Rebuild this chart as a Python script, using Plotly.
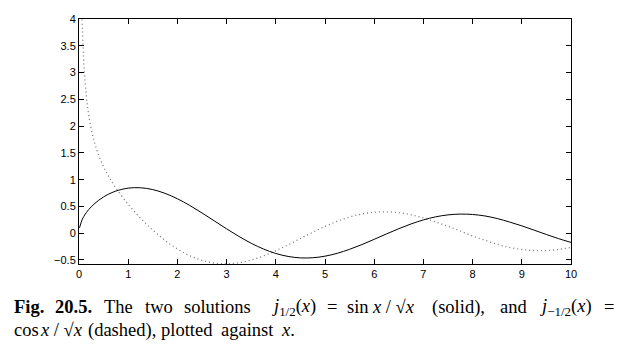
import plotly.graph_objects as go

x_vals = [0.01, 0.0625, 0.1, 0.15, 0.2, 0.3, 0.4, 0.5, 0.6, 0.75, 1.0, 1.25, 1.5, 1.75,
          2.0, 2.25, 2.5, 2.75, 3.0, 3.25, 3.5, 3.75, 4.0, 4.25, 4.5, 4.75, 5.0, 5.25,
          5.5, 5.75, 6.0, 6.25, 6.5, 6.75, 7.0, 7.25, 7.5, 7.75, 8.0, 8.25, 8.5, 8.75,
          9.0, 9.25, 9.5, 9.75, 10.0]
j_half = [0.100, 0.2498, 0.3157, 0.3859, 0.4442, 0.5395, 0.6157, 0.6780, 0.7289, 0.7871,
          0.8415, 0.8488, 0.8144, 0.7438, 0.6430, 0.5187, 0.3785, 0.2302, 0.0815, -0.0600,
          -0.1875, -0.2952, -0.3784, -0.4341, -0.4608, -0.4585, -0.4288, -0.3749, -0.3008,
          -0.2121, -0.1141, -0.0133, 0.0844, 0.1732, 0.2483, 0.3058, 0.3425, 0.3568, 0.3498,
          0.3223, 0.2739, 0.2093, 0.1374, 0.0573, -0.0244, -0.1022, -0.1720]
j_mhalf = [None, 3.992, 3.1464, 2.5530, 2.1915, 1.7442, 1.4563, 1.2411, 1.0655, 0.8449,
           0.5403, 0.2820, 0.0578, -0.1347, -0.2943, -0.4188, -0.5067, -0.5574, -0.5716,
           -0.5514, -0.5006, -0.4237, -0.3268, -0.2164, -0.0994, 0.0173, 0.1269, 0.2235,
           0.3022, 0.3591, 0.3920, 0.3998, 0.3831, 0.3437, 0.2849, 0.2108, 0.1266, 0.0415,
           -0.0514, -0.1316, -0.2065, -0.2655, -0.3037, -0.3238, -0.3235, -0.3035, -0.2653]
x_ticks = [0, 1, 2, 3, 4, 5, 6, 7, 8, 9, 10]
y_ticks = [-0.5, 0, 0.5, 1, 1.5, 2, 2.5, 3, 3.5, 4]
y_tick_text = ["\u22120.5", "0", "0.5", "1", "1.5", "2", "2.5", "3", "3.5", "4"]

fig = go.Figure()
fig.add_trace(go.Scatter(x=x_vals, y=j_mhalf, mode="lines", line_shape="spline",
                         line=dict(color="#777777", width=1.3, dash="1px,3px"),
                         connectgaps=False, showlegend=False))
fig.add_trace(go.Scatter(x=x_vals, y=j_half, mode="lines", line_shape="spline",
                         line=dict(color="black", width=1), showlegend=False))

axis_common = dict(showgrid=False, zeroline=False, showline=True, linecolor="black",
                   linewidth=1, mirror="ticks", ticks="inside", ticklen=5,
                   tickcolor="black", tickwidth=1,
                   tickfont=dict(family="Liberation Sans", size=11, color="black"))
fig.update_xaxes(range=[0, 10], tickvals=x_ticks, **axis_common)
fig.update_yaxes(range=[-0.575, 4], tickvals=y_ticks, ticktext=y_tick_text, **axis_common)

serif = dict(family="Liberation Serif", size=18.5, color="black")
W, H = 643, 350
ml, mr, mt, mb = 79, 72, 19, 86
pw, ph = W - ml - mr, H - mt - mb

def add_px(text, xpx, ypx):
    fig.add_annotation(text=text, x=(xpx - ml) / pw, y=(H - mb - ypx) / ph,
                       xref="paper", yref="paper", xanchor="left", yanchor="middle",
                       showarrow=False, font=serif)

line1_y = 307
line2_y = 330
pieces1 = [
    ("<b>Fig.</b>", 12),
    ("<b>20.5.</b>", 53),
    ("The", 102),
    ("two", 143),
    ("solutions", 182),
    ("<i>j</i><sub>1/2</sub>(<i>x</i>)", 270),
    ("=", 325),
    ("sin", 345),
    ("<i>x</i> / \u221a<i>x</i>", 370),
    ("(solid),", 430),
    ("and", 498),
    ("<i>j</i><sub>\u22121/2</sub>(<i>x</i>)", 538),
    ("=", 602),
]
pieces2 = [
    ("cos", 12),
    ("<i>x</i> / \u221a<i>x</i>", 38),
    ("(dashed),", 86),
    ("plotted", 159),
    ("against", 219),
    ("<i>x</i>.", 279),
]
for t, xp in pieces1:
    add_px(t, xp, line1_y)
for t, xp in pieces2:
    add_px(t, xp, line2_y)

fig.update_layout(width=W, height=H, margin=dict(l=ml, r=mr, t=mt, b=mb),
                  paper_bgcolor="white", plot_bgcolor="white")
fig.write_html("out.html")
